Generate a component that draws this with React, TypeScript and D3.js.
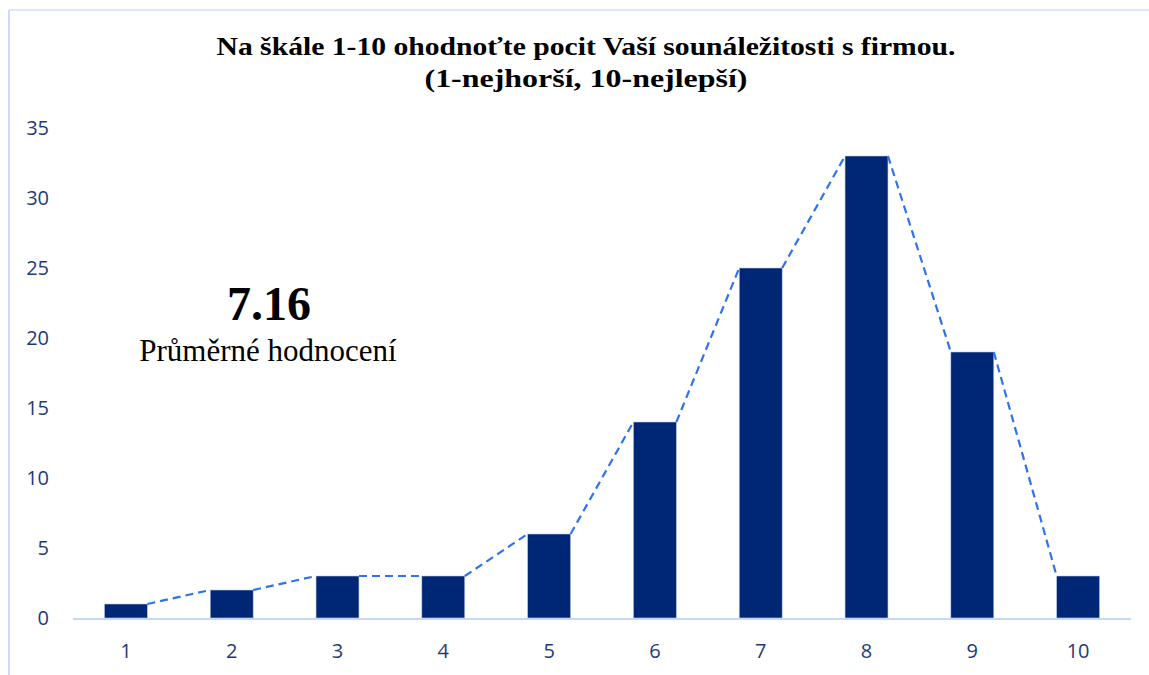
import React from "react";
import * as d3 from "d3";

const categories = ["1", "2", "3", "4", "5", "6", "7", "8", "9", "10"];
const counts = [1, 2, 3, 3, 6, 14, 25, 33, 19, 3];
const yTicks = [0, 5, 10, 15, 20, 25, 30, 35];
const titleLines = [
  "Na škále 1-10 ohodnoťte pocit Vaší sounáležitosti s firmou.",
  "(1-nejhorší, 10-nejlepší)",
];
const titleWidths = [739, 323];
const averageValue = "7.16";
const averageLabel = "Průměrné hodnocení";

const W = 1149;
const H = 675;
const BAR = "#002776";
const LINE = "#2f72f0";
const AXIS = "#c5d7f6";
const TICK = "#1f3a78";
const SANS = "'Open Sans', Lato, sans-serif";
const SERIF = "'Liberation Serif', 'Times New Roman', serif";

export default function App() {
  const x = d3
    .scaleBand<string>()
    .domain(categories)
    .range([73, 1131])
    .paddingInner(0.594)
    .paddingOuter(0.297);
  const y = d3.scaleLinear().domain([0, 35]).range([618, 128]);
  const bw = x.bandwidth();

  const segs = counts.slice(0, -1).map((v, i) => {
    const a: [number, number] = [(x(categories[i]) as number) + bw, y(v)];
    const b: [number, number] = [x(categories[i + 1]) as number, y(counts[i + 1])];
    return d3.line()([a, b]) as string;
  });

  return (
    <div style={{ position: "absolute", left: 0, top: 0 }}>
      <svg width={W} height={H} style={{ display: "block" }}>
        <rect x={0} y={0} width={W} height={H} fill="#fff" />
        <line x1={9} x2={W} y1={10} y2={10} stroke="#dbe6f9" strokeWidth={2} />
        <line x1={9} x2={9} y1={10} y2={H} stroke="#c9dbf8" strokeWidth={2} />

        {titleLines.map((t, i) => (
          <text
            key={i}
            x={586}
            y={55 + i * 32}
            textAnchor="middle"
            fontFamily={SERIF}
            fontWeight="bold"
            fontSize={26}
            textLength={titleWidths[i]}
            lengthAdjust="spacingAndGlyphs"
            fill="#000"
          >
            {t}
          </text>
        ))}

        {yTicks.map((t) => (
          <text
            key={t}
            x={49}
            y={y(t)}
            dy="0.36em"
            textAnchor="end"
            fontFamily={SANS}
            fontSize={20}
            fill={TICK}
          >
            {t}
          </text>
        ))}

        {categories.map((c, i) => (
          <rect
            key={c}
            x={x(c) as number}
            y={y(counts[i])}
            width={bw}
            height={y(0) - y(counts[i])}
            fill={BAR}
            stroke="#b8c9ea"
            strokeWidth={0.6}
          />
        ))}

        {segs.map((d, i) => (
          <path key={i} d={d} fill="none" stroke={LINE} strokeWidth={2.2} strokeDasharray="8,5" />
        ))}

        <line x1={73} x2={1131} y1={y(0) + 1} y2={y(0) + 1} stroke={AXIS} strokeWidth={2} />

        {categories.map((c) => (
          <text
            key={c}
            x={(x(c) as number) + bw / 2}
            y={658}
            textAnchor="middle"
            fontFamily={SANS}
            fontSize={20}
            fill={TICK}
          >
            {c}
          </text>
        ))}

        <text x={269} y={320} textAnchor="middle" fontFamily={SERIF} fontWeight="bold" fontSize={48} fill="#000">
          {averageValue}
        </text>
        <text x={268} y={361} textAnchor="middle" fontFamily={SERIF} fontSize={31} fill="#000">
          {averageLabel}
        </text>
      </svg>
    </div>
  );
}
